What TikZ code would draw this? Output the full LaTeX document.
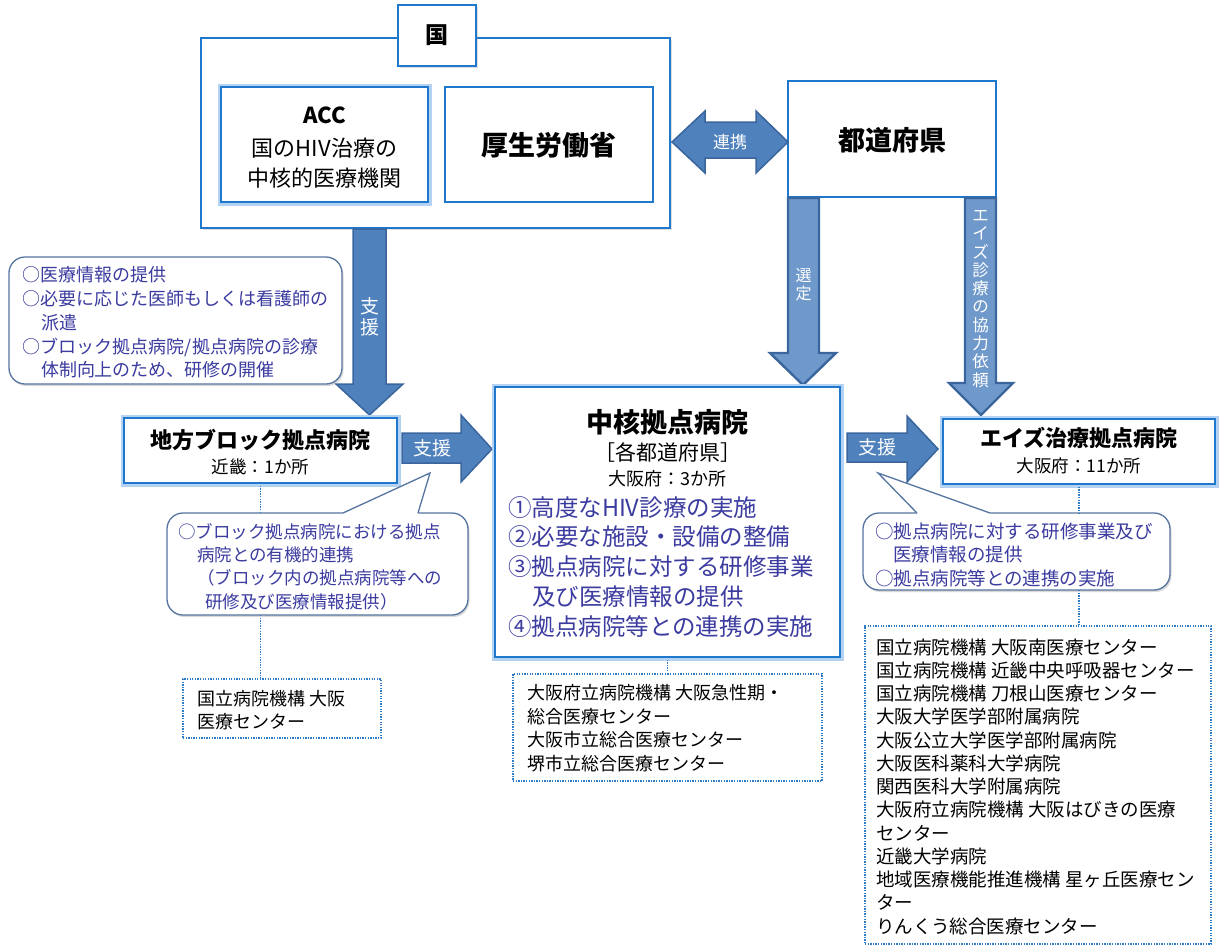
\documentclass[tikz,border=0pt]{standalone}
\usepackage{fontspec}
\setmainfont{Noto Sans CJK JP}
\usetikzlibrary{shadows,calc}
\definecolor{bxblue}{HTML}{1F78CC}
\definecolor{glowc}{HTML}{B3D2F4}
\definecolor{arrfill}{HTML}{4F81BD}
\definecolor{arrline}{HTML}{3A659D}
\definecolor{arrlight}{HTML}{7099CB}
\definecolor{txtblue}{HTML}{3B3BA0}
\definecolor{callline}{HTML}{5674A0}
\definecolor{dotblue}{HTML}{2E7CC8}
\newcommand{\fsz}[1]{\fontsize{#1}{#1}\selectfont}
\begin{document}
\begin{tikzpicture}[x=1pt,y=-1pt,
  every node/.style={inner sep=0pt, outer sep=0pt},
  bx/.style={draw=bxblue, line width=1.3pt, fill=white, anchor=north west},
  glowbx/.style={bx, preaction={draw=glowc, line width=7pt}},
  shbx/.style={bx, drop shadow={opacity=0.25, shadow xshift=1.5pt, shadow yshift=-1.5pt}},
  callout/.style={draw=callline, line width=1.3pt, fill=white, rounded corners=16pt, anchor=north west,
     drop shadow={opacity=0.3, shadow xshift=1.5pt, shadow yshift=-2pt}},
  dotbox/.style={draw=dotblue, line width=1.2pt, dash pattern=on 1.3pt off 1.3pt, fill=white, anchor=north west},
  dotline/.style={draw=dotblue, line width=1.2pt, dash pattern=on 1.3pt off 1.3pt},
  barrow/.style={fill=arrfill, draw=arrline, line width=1.5pt, line join=miter},
  larrow/.style={fill=arrlight, draw=arrline, line width=2.4pt, line join=miter},
  ctext/.style={text=txtblue, anchor=west},
  ltext/.style={anchor=west, text=black},
  wlabel/.style={text=white, align=center},
]
\useasboundingbox (0,0) rectangle (1219,946);

% ---------------- 国 ----------------
\node[shbx, minimum width=469pt, minimum height=190pt] (outer) at (201,38) {};
\node[shbx, minimum width=78pt, minimum height=61pt] (kuni) at (398,5) {};
\node[font=\fsz{23}\bfseries] (kunit) at (kuni.center) {国};
\node[glowbx, minimum width=207pt, minimum height=115pt] (acc) at (221,87) {};
\node[font=\fsz{22}\bfseries] (acc1) at (324.5,115) {ACC};
\node[font=\fsz{22}] (acc2) at (324.5,148) {国のHIV治療の};
\node[font=\fsz{22}] (acc3) at (324.5,178) {中核的医療機関};
\node[bx, minimum width=208pt, minimum height=115pt] (kosei) at (445,87) {};
\node[font=\fsz{27}\bfseries] (koseit) at (549,145) {厚生労働省};

% ---------------- 都道府県 ----------------
\node[bx, minimum width=208pt, minimum height=116pt] (todo) at (788,81) {};
\node[font=\fsz{27}\bfseries] (todot) at (892,140) {都道府県};

% 連携 double arrow
\draw[barrow] (672,142) -- (705,111) -- (705,122) -- (756,122) -- (756,111) -- (788,142)
  -- (756,173) -- (756,158) -- (705,158) -- (705,173) -- cycle;
\node[wlabel, font=\fsz{17}] (renkei) at (730,142) {連携};

% 選定 arrow
\draw[larrow] (788,198) -- (788,353) -- (770,353) -- (803,385) -- (836,353) -- (819,353) -- (819,198) -- cycle;
\node[wlabel, font=\fontsize{16}{18}\selectfont] (sentei) at (803.5,285) {選\\定};

% エイズ診療の協力依頼 arrow
\draw[larrow] (965,198) -- (965,383) -- (949,383) -- (981,415) -- (1013,383) -- (996,383) -- (996,198) -- cycle;
\node[wlabel, font=\fontsize{16.5}{18.3}\selectfont] (irai) at (980.5,299) {エ\\イ\\ズ\\診\\療\\の\\協\\力\\依\\頼};

% 支援 (down)
\draw[barrow] (353,229) -- (353,384) -- (336,384) -- (369.5,415) -- (403,384) -- (386,384) -- (386,229) -- cycle;
\node[wlabel, font=\fontsize{19}{21}\selectfont] (shien1) at (369.5,317) {支\\援};

% callout 1
\node[callout, minimum width=333pt, minimum height=127pt] (c1) at (9,257) {};
\node[ctext, font=\fsz{18}] (c1a) at (23,275) {○医療情報の提供};
\node[ctext, font=\fsz{18}] (c1b) at (23,299) {○必要に応じた医師もしくは看護師の};
\node[ctext, font=\fsz{18}] (c1c) at (41,323) {派遣};
\node[ctext, font=\fsz{18}] (c1d) at (23,347) {○ブロック拠点病院/拠点病院の診療};
\node[ctext, font=\fsz{18}] (c1e) at (41,370) {体制向上のため、研修の開催};

% ---------------- 地方ブロック拠点病院 ----------------
\node[glowbx, minimum width=273pt, minimum height=65pt] (chiho) at (124,418) {};
\node[font=\fsz{22}\bfseries] (chihot) at (260.5,440) {地方ブロック拠点病院};
\node[font=\fsz{17.5}] (chihos) at (260.5,467) {近畿：1か所};

% 支援 right arrow 1
\draw[barrow] (402,433) -- (461,433) -- (461,415) -- (492,449) -- (461,482) -- (461,463) -- (402,463) -- cycle;
\node[wlabel, font=\fsz{19}] (shien2) at (432,448) {支援};

% ---------------- 中核拠点病院 ----------------
\node[glowbx, minimum width=345pt, minimum height=270pt] (chukaku) at (495,387) {};
\node[font=\fsz{27}\bfseries] (chut) at (667.5,422) {中核拠点病院};
\node[font=\fsz{21}] (chu2) at (667.5,452) {［各都道府県］};
\node[font=\fsz{18}] (chu3) at (667.5,479) {大阪府：3か所};
\node[ctext, font=\fsz{23.5}] (i1) at (508,508) {①高度なHIV診療の実施};
\node[ctext, font=\fsz{23.5}] (i2) at (508,537) {②必要な施設・設備の整備};
\node[ctext, font=\fsz{23.5}] (i3) at (508,567) {③拠点病院に対する研修事業};
\node[ctext, font=\fsz{23.5}] (i3b) at (532,597) {及び医療情報の提供};
\node[ctext, font=\fsz{23.5}] (i4) at (508,627) {④拠点病院等との連携の実施};

% 支援 right arrow 2
\draw[barrow] (847,433) -- (907,433) -- (907,416) -- (938,449) -- (907,482) -- (907,462) -- (847,462) -- cycle;
\node[wlabel, font=\fsz{19}] (shien3) at (877,447) {支援};

% ---------------- エイズ治療拠点病院 ----------------
\node[glowbx, minimum width=272pt, minimum height=65pt] (aids) at (943,419) {};
\node[font=\fsz{22}\bfseries] (aidst) at (1079,438) {エイズ治療拠点病院};
\node[font=\fsz{17.5}] (aidss) at (1079,466) {大阪府：11か所};

% ---------------- callouts with pointer ----------------
\node[callout, minimum width=301pt, minimum height=102pt] (c2) at (167,513) {};
\fill[white] (343,513) -- (430,473) -- (418,513) -- (418,516) -- (343,516) -- cycle;
\draw[callline, line width=1.3pt, line join=miter] (343,513) -- (430,473) -- (418,513);
\node[ctext, font=\fsz{17.5}] (c2a) at (178,532) {○ブロック拠点病院における拠点};
\node[ctext, font=\fsz{17.5}] (c2b) at (197,555) {病院との有機的連携};
\node[ctext, font=\fsz{17.5}] (c2c) at (197,578) {（ブロック内の拠点病院等への};
\node[ctext, font=\fsz{17.5}] (c2d) at (205,602) {研修及び医療情報提供）};

\node[callout, minimum width=307pt, minimum height=77pt] (c3) at (863,513) {};
\fill[white] (917,513) -- (878,473) -- (990,513) -- (990,516) -- (917,516) -- cycle;
\draw[callline, line width=1.3pt, line join=miter] (917,513) -- (878,473) -- (990,513);
\node[ctext, font=\fsz{18.5}] (c3a) at (875,531) {○拠点病院に対する研修事業及び};
\node[ctext, font=\fsz{18.5}] (c3b) at (893,554) {医療情報の提供};
\node[ctext, font=\fsz{18.5}] (c3c) at (875,578) {○拠点病院等との連携の実施};

% ---------------- dotted lists ----------------
\node[dotbox, minimum width=198pt, minimum height=59pt] (d1) at (183,679) {};
\node[ltext, font=\fsz{18}] (d1a) at (197,699) {国立病院機構 大阪};
\node[ltext, font=\fsz{18}] (d1b) at (197,722) {医療センター};

\node[dotbox, minimum width=309pt, minimum height=107pt] (d2) at (513,674) {};
\node[ltext, font=\fsz{18}] (d2a) at (527,693) {大阪府立病院機構 大阪急性期・};
\node[ltext, font=\fsz{18}] (d2b) at (527,716.5) {総合医療センター};
\node[ltext, font=\fsz{18}] (d2c) at (527,740) {大阪市立総合医療センター};
\node[ltext, font=\fsz{18}] (d2d) at (527,763.5) {堺市立総合医療センター};

\node[dotbox, minimum width=346pt, minimum height=318pt] (d3) at (865,626) {};
\foreach \t [count=\i from 0] in {国立病院機構 大阪南医療センター,
  国立病院機構 近畿中央呼吸器センター,
  国立病院機構 刀根山医療センター,
  大阪大学医学部附属病院,
  大阪公立大学医学部附属病院,
  大阪医科薬科大学病院,
  関西医科大学附属病院,
  大阪府立病院機構 大阪はびきの医療,
  センター,
  近畿大学病院,
  地域医療機能推進機構 星ヶ丘医療セン,
  ター,
  りんくう総合医療センター}
  \node[ltext, font=\fsz{18.5}] (d3l\i) at (876,647+23.25*\i) {\t};

% ---------------- dotted connectors ----------------
\draw[dotline] (chiho.south) -- (chiho.south |- c2.north);
\draw[dotline] (chiho.south |- c2.south) -- (chiho.south |- d1.north);
\draw[dotline] (chukaku.south) -- (chukaku.south |- d2.north);
\draw[dotline] (aids.south) -- (aids.south |- c3.north);
\draw[dotline] (aids.south |- c3.south) -- (aids.south |- d3.north);
\end{tikzpicture}
\end{document}
